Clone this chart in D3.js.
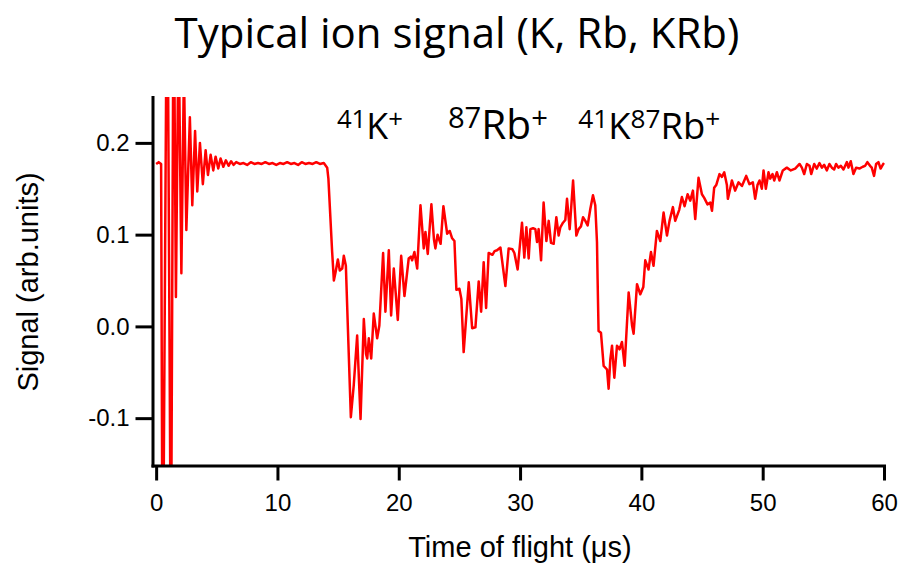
<!DOCTYPE html>
<html>
<head>
<meta charset="utf-8">
<script src="https://cdn.jsdelivr.net/npm/d3@7"></script>
<style>
  html, body { margin: 0; padding: 0; background: #fff; }
  svg { display: block; }
</style>
</head>
<body>
<svg id="chart" width="902" height="563"></svg>
<script>
// Time-of-flight trace (µs) and ion signal (arb. units)
const timeUs = [
  0.00, 0.21, 0.41, 0.54, 0.91, 1.22, 1.44, 1.63, 1.85, 2.08, 2.29, 2.49, 2.78, 2.98, 3.21, 3.39,
  3.61, 3.85, 4.08, 4.27, 4.49, 4.71, 4.90, 5.12, 5.31, 5.54, 5.75, 5.97, 6.18, 6.38, 6.6, 6.9,
  7.2, 7.5, 7.8, 8.1, 8.4, 8.7, 9.0, 9.3, 9.6, 9.9, 10.2, 10.5, 10.8, 11.1, 11.4, 11.7,
  12.0, 12.3, 12.6, 12.9, 13.2, 13.5, 13.82, 14.1, 14.2, 14.51, 14.65, 14.79, 14.98, 15.14, 15.34, 15.47,
  15.64, 15.8, 16.05, 16.29, 16.57, 16.85, 17.12, 17.30, 17.40, 17.53, 17.73, 17.94, 18.22, 18.40, 18.71, 18.90,
  19.18, 19.37, 19.59, 19.92, 20.20, 20.47, 20.82, 21.00, 21.10, 21.29, 21.52, 21.79, 22.06, 22.20, 22.39, 22.69,
  22.90, 23.02, 23.20, 23.29, 23.45, 23.68, 23.99, 24.20, 24.40, 24.59, 24.75, 25.00, 25.16, 25.35, 25.77, 26.05,
  26.32, 26.59, 26.79, 27.00, 27.20, 27.41, 27.72, 27.90, 28.10, 28.38, 28.79, 29.06, 29.37, 29.53, 29.80, 30.16,
  30.35, 30.52, 30.71, 30.85, 31.07, 31.26, 31.40, 31.53, 31.73, 31.94, 32.17, 32.36, 32.55, 32.77, 32.99, 33.18,
  33.32, 33.54, 33.73, 33.87, 34.09, 34.37, 34.64, 34.83, 35.02, 35.19, 35.38, 35.57, 35.79, 36.01, 36.20, 36.34,
  36.39, 36.47, 36.67, 36.89, 37.17, 37.30, 37.44, 37.58, 37.77, 37.99, 38.20, 38.40, 38.62, 38.95, 39.23, 39.36,
  39.64, 39.91, 40.16, 40.32, 40.59, 40.79, 41.00, 41.28, 41.56, 41.83, 42.11, 42.32, 42.60, 42.79, 43.12, 43.34,
  43.56, 43.81, 44.03, 44.25, 44.44, 44.71, 44.99, 45.18, 45.45, 45.68, 45.82, 46.00, 46.17, 46.44, 46.64, 46.83,
  47.05, 47.13, 47.32, 47.46, 47.73, 48.01, 48.29, 48.64, 48.91, 49.19, 49.38, 49.57, 49.74, 49.93, 50.07, 50.26,
  50.48, 50.62, 50.81, 50.95, 51.17, 51.38, 51.66, 51.99, 52.32, 52.68, 53.04, 53.23, 53.42, 53.64, 53.86, 54.00,
  54.25, 54.46, 54.68, 54.88, 55.07, 55.29, 55.50, 55.70, 55.89, 56.05, 56.24, 56.44, 56.66, 56.94, 57.07, 57.26,
  57.48, 57.70, 57.97, 58.25, 58.44, 58.63, 58.85, 58.99, 59.18, 59.35, 59.54, 59.72, 59.94, 60.00
];
const signal = [
  0.177, 0.179, 0.177, -0.35, 0.45, -0.30, 0.40, 0.032, 0.33, 0.058, 0.28, 0.105, 0.228, 0.132, 0.213, 0.147,
  0.200, 0.155, 0.192, 0.165, 0.187, 0.170, 0.185, 0.172, 0.183, 0.174, 0.181, 0.175, 0.180, 0.176, 0.179, 0.177,
  0.178, 0.176, 0.179, 0.177, 0.178, 0.177, 0.179, 0.177, 0.178, 0.176, 0.178, 0.177, 0.179, 0.177, 0.178, 0.176,
  0.179, 0.177, 0.178, 0.177, 0.179, 0.177, 0.178, 0.173, 0.161, 0.081, 0.050, 0.059, 0.073, 0.061, 0.063, 0.077,
  0.066, 0.001, -0.099, -0.064, -0.010, -0.101, 0.008, -0.030, -0.035, -0.013, -0.035, 0.014, -0.013, 0.001, 0.080, 0.016,
  0.083, 0.012, 0.063, 0.007, 0.077, 0.033, 0.074, 0.076, 0.072, 0.081, 0.063, 0.132, 0.085, 0.103, 0.079, 0.133,
  0.095, 0.085, 0.100, 0.096, 0.090, 0.131, 0.101, 0.104, 0.096, 0.093, 0.040, 0.041, 0.030, -0.028, 0.048, -0.002,
  -0.001, 0.049, 0.016, 0.070, 0.020, 0.080, 0.078, 0.082, 0.083, 0.086, 0.044, 0.085, 0.084, 0.080, 0.062, 0.113,
  0.075, 0.108, 0.074, 0.106, 0.107, 0.106, 0.092, 0.106, 0.072, 0.135, 0.093, 0.115, 0.091, 0.090, 0.119, 0.099,
  0.108, 0.113, 0.116, 0.139, 0.106, 0.159, 0.099, 0.106, 0.109, 0.119, 0.115, 0.110, 0.128, 0.143, 0.132, 0.092,
  0.052, -0.005, -0.007, -0.043, -0.047, -0.068, -0.036, -0.021, -0.056, -0.021, -0.025, -0.017, -0.043, 0.037, 0.001, -0.008,
  0.046, 0.035, 0.043, 0.072, 0.062, 0.081, 0.066, 0.104, 0.093, 0.124, 0.099, 0.115, 0.130, 0.115, 0.127, 0.141,
  0.131, 0.144, 0.137, 0.148, 0.117, 0.162, 0.144, 0.140, 0.133, 0.135, 0.126, 0.151, 0.154, 0.166, 0.163, 0.168,
  0.154, 0.139, 0.150, 0.159, 0.148, 0.157, 0.153, 0.164, 0.155, 0.157, 0.139, 0.154, 0.159, 0.150, 0.170, 0.150,
  0.168, 0.161, 0.166, 0.159, 0.168, 0.159, 0.170, 0.173, 0.170, 0.172, 0.177, 0.173, 0.166, 0.177, 0.175, 0.166,
  0.177, 0.172, 0.178, 0.173, 0.176, 0.170, 0.177, 0.173, 0.171, 0.177, 0.173, 0.175, 0.171, 0.179, 0.173, 0.180,
  0.166, 0.173, 0.172, 0.174, 0.175, 0.179, 0.175, 0.173, 0.164, 0.177, 0.179, 0.172, 0.177, 0.178
];

// Axis ticks
const xTicks = [0, 10, 20, 30, 40, 50, 60];
const yTicks = [-0.1, 0.0, 0.1, 0.2];

// Peak annotations: [text, superscript?] pieces and the time each label starts at
const peakLabels = [
  { parts: [["41", true], ["K", false], ["+", true]], t: 14.9, width: 66 },
  { parts: [["87", true], ["Rb", false], ["+", true]], t: 24.05, width: 100 },
  { parts: [["41", true], ["K", false], ["87", true], ["Rb", false], ["+", true]], t: 34.8, width: 142 }
];

const titleText = "Typical ion signal (K, Rb, KRb)";
const xTitle = "Time of flight (\u03BCs)";
const yTitle = "Signal (arb.units)";

const svg = d3.select("#chart");
const plot = { left: 152.5, right: 884, top: 97, bottom: 465.5 };

const x = d3.scaleLinear().domain([-0.3, 60]).range([plot.left, plot.right]);
const y = d3.scaleLinear().domain([-0.1516, 0.25]).range([plot.bottom, plot.top]);

const tickFont = "'Liberation Sans', Arial, sans-serif";
const textFont = "'Open Sans', 'Noto Sans', sans-serif";

svg.append("defs").append("clipPath").attr("id", "plot-clip")
  .append("rect")
  .attr("x", plot.left).attr("y", plot.top)
  .attr("width", plot.right - plot.left + 2).attr("height", plot.bottom - plot.top);

// Signal trace
const line = d3.line().x((d, i) => x(timeUs[i])).y(d => y(d));
svg.append("path")
  .datum(signal)
  .attr("clip-path", "url(#plot-clip)")
  .attr("fill", "none")
  .attr("stroke", "#ff0000")
  .attr("stroke-width", 2.5)
  .attr("stroke-linejoin", "round")
  .attr("d", line);

// Axes
const yAxis = d3.axisLeft(y).tickValues(yTicks).tickFormat(d => d.toFixed(1))
  .tickSize(17).tickSizeOuter(0).tickPadding(6);
const xAxis = d3.axisBottom(x).tickValues(xTicks).tickFormat(d => String(d))
  .tickSize(15).tickSizeOuter(0).tickPadding(13);

const gy = svg.append("g").attr("transform", `translate(${plot.left},0)`).call(yAxis);
const gx = svg.append("g").attr("transform", `translate(0,${plot.bottom})`).call(xAxis);

[gx, gy].forEach(g => {
  g.select(".domain").attr("stroke", "#000").attr("stroke-width", 3).attr("stroke-linecap", "square");
  g.selectAll(".tick line").attr("stroke", "#000").attr("stroke-width", 3);
  g.selectAll(".tick text").attr("fill", "#000").style("font-family", tickFont).style("font-size", "24px");
});

// Axis titles
svg.append("text")
  .attr("x", 520).attr("y", 557)
  .attr("text-anchor", "middle")
  .style("font-family", tickFont).style("font-size", "29px")
  .text(xTitle);

svg.append("text")
  .attr("transform", "translate(38,282) rotate(-90)")
  .attr("text-anchor", "middle")
  .style("font-family", tickFont).style("font-size", "29px")
  .text(yTitle);

// Scale a text node's font so it spans the given width
function fitWidth(node, target) {
  const sel = d3.select(node);
  const w = node.getComputedTextLength();
  const fs = parseFloat(sel.style("font-size"));
  sel.style("font-size", (fs * target / w) + "px");
}

// Title
const title = svg.append("text")
  .attr("x", 457).attr("y", 48)
  .attr("text-anchor", "middle")
  .style("font-family", textFont).style("font-size", "40px")
  .text(titleText);
fitWidth(title.node(), 565);

// Peak labels with superscripts
peakLabels.forEach(lab => {
  const t = svg.append("text")
    .attr("x", x(lab.t)).attr("y", 139)
    .style("font-family", textFont).style("font-size", "34px");
  let raised = false;
  lab.parts.forEach(([s, sup]) => {
    const ts = t.append("tspan").text(s);
    if (sup) {
      ts.attr("font-size", "0.72em");
      if (!raised) { ts.attr("dy", "-11"); raised = true; }
    } else if (raised) {
      ts.attr("dy", "11"); raised = false;
    }
  });
  fitWidth(t.node(), lab.width);
});
</script>
</body>
</html>
